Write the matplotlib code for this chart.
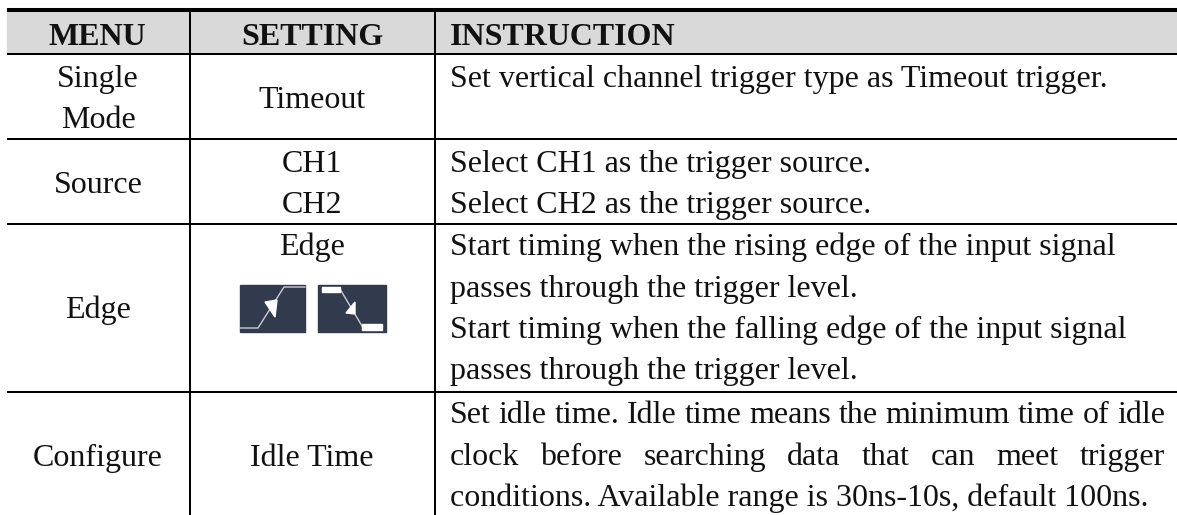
import matplotlib
matplotlib.use("Agg")
import matplotlib.pyplot as plt
from matplotlib.patches import Rectangle, Polygon

W, H = 1177, 515

headers = ["MENU", "SETTING", "INSTRUCTION"]
menu_labels = ["Single", "Mode", "Source", "Edge", "Configure"]
setting_labels = ["Timeout", "CH1", "CH2", "Edge", "Idle Time"]
instr_lines = [
    "Set vertical channel trigger type as Timeout trigger.",
    "Select CH1 as the trigger source.",
    "Select CH2 as the trigger source.",
    "Start timing when the rising edge of the input signal",
    "passes through the trigger level.",
    "Start timing when the falling edge of the input signal",
    "passes through the trigger level.",
    "conditions. Available range is 30ns-10s, default 100ns.",
]
justified_lines = [
    "Set idle time. Idle time means the minimum time of idle",
    "clock before searching data that can meet trigger",
]
# text baselines
instr_y = [87, 172, 213, 255, 297, 338, 379, 506]
justified_y = [423, 465]
menu_y = [87, 128, 193, 318, 466]
setting_y = [108, 172, 213, 255, 466]
row_lines = [53.5, 138.5, 224, 392]
col_lines = [190, 435]

plt.rcParams["font.family"] = ["Liberation Serif", "DejaVu Serif"]
fig = plt.figure(figsize=(W / 100, H / 100), dpi=100)
ax = fig.add_axes([0, 0, 1, 1])
ax.set_xlim(0, W)
ax.set_ylim(H, 0)
ax.axis("off")

left, right = 7, W
fs = 23
ink = "#111111"

ax.add_patch(Rectangle((left, 10), right - left, 43, color="#d9d9d9", zorder=0))
ax.plot([left, right], [10, 10], color="black", lw=2.9, solid_capstyle="butt")
for y in row_lines:
    ax.plot([left, right], [y, y], color="black", lw=1.45, solid_capstyle="butt")
for x in col_lines:
    ax.plot([x, x], [10, H], color="black", lw=1.45, solid_capstyle="butt")

# header
ax.text(97.5, 45, headers[0], ha="center", va="baseline", fontsize=fs, fontweight="bold", color=ink)
ax.text(312, 45, headers[1], ha="center", va="baseline", fontsize=fs, fontweight="bold", color=ink)
ax.text(450, 45, headers[2], ha="left", va="baseline", fontsize=fs, fontweight="bold", color=ink)

for label, y in zip(menu_labels, menu_y):
    ax.text(98, y, label, ha="center", va="baseline", fontsize=fs, color=ink)
for label, y in zip(setting_labels, setting_y):
    ax.text(312, y, label, ha="center", va="baseline", fontsize=fs, color=ink)
for line, y in zip(instr_lines, instr_y):
    ax.text(450, y, line, ha="left", va="baseline", fontsize=fs, color=ink)

# justified lines, spread word by word to the cell width
renderer = fig.canvas.get_renderer()
x0, x1 = 450, 1165
for line, y in zip(justified_lines, justified_y):
    words = line.split(" ")
    items = [ax.text(0, y, w, ha="left", va="baseline", fontsize=fs, color=ink) for w in words]
    widths = [t.get_window_extent(renderer).width for t in items]
    gap = (x1 - x0 - sum(widths)) / (len(words) - 1)
    x = x0
    for t, w in zip(items, widths):
        t.set_x(x)
        x += w + gap

# edge icons
icon_color = "#323a4d"
ax.add_patch(Rectangle((240, 285), 65, 47, color=icon_color, zorder=2))
ax.add_patch(Rectangle((318, 285), 68, 47, color=icon_color, zorder=2))
ax.plot([240, 258, 284, 305], [328, 328, 287, 287], color="#c8ccd2", lw=1.0, zorder=3)
ax.add_patch(Polygon([[265, 302], [277, 300], [275, 317]], color="white", zorder=4))
ax.plot([340, 362], [289, 326], color="#c8ccd2", lw=1.0, zorder=3)
ax.add_patch(Rectangle((322, 287), 18, 5, color="white", zorder=4))
ax.add_patch(Rectangle((362, 324), 20, 6, color="white", zorder=4))
ax.add_patch(Polygon([[346, 313], [355, 302], [355, 314]], color="white", zorder=4))

fig.savefig("out.png", dpi=100)
